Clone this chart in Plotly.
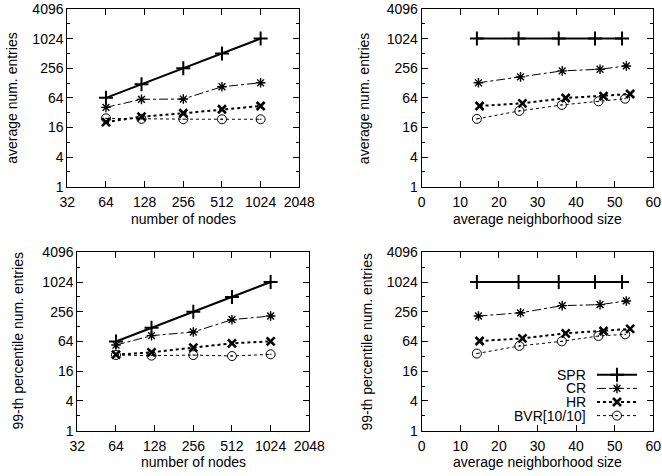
import plotly.graph_objects as go

# ---------------- data ----------------
series_names = ["SPR", "CR", "HR", "BVR[10/10]"]

# number of nodes (left column)
nodes = [64, 121, 256, 512, 1024]

# average entries vs number of nodes (top-left)
avg_nodes_spr = [64, 121, 256, 512, 1024]
avg_nodes_cr = [41, 59.7, 60.6, 107.6, 129.6]
avg_nodes_hr = [20.5, 26.6, 31.1, 37.5, 43.7]
avg_nodes_bvr = [24.5, 23.9, 23.6, 23.5, 23.5]

# 99th percentile vs number of nodes (bottom-left)
p99_nodes_spr = [64, 121, 256, 512, 1024]
p99_nodes_cr = [54.3, 84, 99.7, 177, 210]
p99_nodes_hr = [34.6, 38.6, 48.1, 58.8, 64.5]
p99_nodes_bvr = [34.1, 33.1, 34.0, 32.5, 35.2]

# average neighborhood size (right column), per series
nbh_spr = [14.3, 25.1, 35.5, 44.9, 51.9]
nbh_cr = [14.7, 25.6, 36.4, 46.2, 53.0]
nbh_hr = [15.0, 26.1, 37.3, 47.1, 54.0]
nbh_bvr = [14.3, 25.3, 36.3, 45.8, 52.7]

# average entries vs neighborhood size (top-right)
avg_nbh_spr = [1024, 1024, 1024, 1024, 1024]
avg_nbh_cr = [129.6, 171, 226, 244, 285]
avg_nbh_hr = [43.7, 49.6, 63.5, 69.6, 76.5]
avg_nbh_bvr = [23.9, 34.7, 45.9, 54.4, 61.5]

# 99th percentile vs neighborhood size (bottom-right)
p99_nbh_spr = [1024, 1024, 1024, 1024, 1024]
p99_nbh_cr = [210, 244, 341, 357, 424]
p99_nbh_hr = [65.4, 74, 93.7, 104.6, 115]
p99_nbh_bvr = [36.5, 52, 64.5, 82.7, 89.4]

y_ticks = [1, 4, 16, 64, 256, 1024, 4096]
y_minor = [2, 8, 32, 128, 512, 2048]
x_nodes_ticks = [32, 64, 128, 256, 512, 1024, 2048]

# ---------------- styles ----------------
FONT = "Liberation Sans, Arial, Helvetica, sans-serif"
W, H = 662, 476

styles = {
    "SPR": dict(line=dict(color="black", width=2, dash="solid"),
                marker=dict(symbol="cross-thin-open", size=10, color="black",
                            line=dict(color="black", width=2))),
    "CR": dict(line=dict(color="black", width=1, dash="dashdot"),
               marker=dict(symbol="asterisk-open", size=8, color="black",
                           line=dict(color="black", width=1.4))),
    "HR": dict(line=dict(color="black", width=2, dash="dot"),
               marker=dict(symbol="x-thin-open", size=8, color="black",
                           line=dict(color="black", width=2.6))),
    "BVR[10/10]": dict(line=dict(color="black", width=1, dash="dot"),
                       marker=dict(symbol="circle-open-dot", size=9, color="black",
                                   line=dict(color="black", width=1))),
}

fig = go.Figure()

panels = [
    ("x", "y", [nodes] * 4, [avg_nodes_spr, avg_nodes_cr, avg_nodes_hr, avg_nodes_bvr]),
    ("x2", "y2", [nbh_spr, nbh_cr, nbh_hr, nbh_bvr], [avg_nbh_spr, avg_nbh_cr, avg_nbh_hr, avg_nbh_bvr]),
    ("x3", "y3", [nodes] * 4, [p99_nodes_spr, p99_nodes_cr, p99_nodes_hr, p99_nodes_bvr]),
    ("x4", "y4", [nbh_spr, nbh_cr, nbh_hr, nbh_bvr], [p99_nbh_spr, p99_nbh_cr, p99_nbh_hr, p99_nbh_bvr]),
]

for xa, ya, xs, ys in panels:
    for name, xv, yv in zip(series_names, xs, ys):
        st = styles[name]
        fig.add_trace(go.Scatter(x=xv, y=yv, mode="lines+markers", name=name,
                                 xaxis=xa, yaxis=ya, line=st["line"],
                                 marker=st["marker"], showlegend=False,
                                 cliponaxis=False))

# ---------------- manual gnuplot-style key (bottom-right) ----------------
key_rows_y = [374.8, 388.4, 402.0, 415.6]
key_text_right = 587.5
key_sample = (597, 637)
for name, ky in zip(series_names, key_rows_y):
    st = styles[name]
    fig.add_trace(go.Scatter(x=[key_sample[0], key_sample[1]], y=[ky, ky], mode="lines",
                             xaxis="x5", yaxis="y5", line=st["line"],
                             showlegend=False, hoverinfo="skip"))
    fig.add_trace(go.Scatter(x=[(key_sample[0] + key_sample[1]) / 2], y=[ky], mode="markers",
                             xaxis="x5", yaxis="y5", marker=st["marker"],
                             showlegend=False, hoverinfo="skip"))

annotations = []
for name, ky in zip(series_names, key_rows_y):
    annotations.append(dict(x=key_text_right / W, y=1 - ky / H, xref="paper", yref="paper",
                            text=name, showarrow=False, xanchor="right", yanchor="middle",
                            font=dict(family=FONT, size=14, color="black")))

def px_x(p):
    return p / W

def px_y(p):
    return 1 - p / H

boxes = {
    "TL": (67.3, 299.3, 9.0, 186.7),
    "TR": (421.7, 653.3, 9.0, 186.7),
    "BL": (77.3, 309.3, 252.3, 430.7),
    "BR": (421.7, 653.3, 252.3, 430.7),
}

common_axis = dict(showline=True, linecolor="black", linewidth=1, mirror="ticks",
                   ticks="inside", ticklen=6, tickcolor="black", tickwidth=1,
                   showgrid=False, zeroline=False, automargin=False,
                   tickfont=dict(family=FONT, size=14, color="black"))

def yaxis_cfg(box):
    l, r, t, b = box
    return dict(common_axis, type="log", range=[0, 3.61236],
                tickmode="array", tickvals=y_ticks, ticktext=[str(v) for v in y_ticks],
                minor=dict(tickmode="array", tickvals=y_minor, ticks="inside", ticklen=3,
                           tickcolor="black", tickwidth=1, showgrid=False),
                domain=[px_y(b), px_y(t)], ticklabelstandoff=0)

def xnodes_cfg(box):
    l, r, t, b = box
    return dict(common_axis, type="log", range=[1.50515, 3.31133],
                tickmode="array", tickvals=x_nodes_ticks,
                ticktext=[str(v) for v in x_nodes_ticks],
                domain=[px_x(l), px_x(r)], ticklabelstandoff=2)

def xnbh_cfg(box):
    l, r, t, b = box
    return dict(common_axis, type="linear", range=[0, 60], dtick=10, tick0=0,
                domain=[px_x(l), px_x(r)], ticklabelstandoff=2)

layout = dict(
    template="none",
    width=W, height=H, margin=dict(l=0, r=0, t=0, b=0, pad=0),
    paper_bgcolor="white", plot_bgcolor="rgba(0,0,0,0)",
    font=dict(family=FONT, size=14, color="black"),
    showlegend=False,
    hovermode=False,
    xaxis=dict(xnodes_cfg(boxes["TL"]), anchor="y"),
    yaxis=dict(yaxis_cfg(boxes["TL"]), anchor="x"),
    xaxis2=dict(xnbh_cfg(boxes["TR"]), anchor="y2"),
    yaxis2=dict(yaxis_cfg(boxes["TR"]), anchor="x2"),
    xaxis3=dict(xnodes_cfg(boxes["BL"]), anchor="y3"),
    yaxis3=dict(yaxis_cfg(boxes["BL"]), anchor="x3"),
    xaxis4=dict(xnbh_cfg(boxes["BR"]), anchor="y4"),
    yaxis4=dict(yaxis_cfg(boxes["BR"]), anchor="x4"),
    xaxis5=dict(domain=[0, 1], range=[0, W], visible=False, fixedrange=True,
                anchor="y5", automargin=False),
    yaxis5=dict(domain=[0, 1], range=[H, 0], visible=False, fixedrange=True,
                anchor="x5", automargin=False),
)

titles = [
    ("number of nodes", "TL", 219.0, 12.0, "average num. entries"),
    ("average neighborhood size", "TR", 219.0, 364.3, "average num. entries"),
    ("number of nodes", "BL", 461.5, 17.0, "99-th percentile num. entries"),
    ("average neighborhood size", "BR", 461.5, 366.0, "99-th percentile num. entries"),
]
for xt, key, xty, ytx, yt in titles:
    l, r, t, b = boxes[key]
    annotations.append(dict(x=px_x((l + r) / 2), y=px_y(xty), xref="paper", yref="paper",
                            text=xt, showarrow=False, xanchor="center", yanchor="middle",
                            font=dict(family=FONT, size=14, color="black")))
    annotations.append(dict(x=px_x(ytx), y=px_y((t + b) / 2), xref="paper", yref="paper",
                            text=yt, showarrow=False, textangle=-90,
                            xanchor="center", yanchor="middle",
                            font=dict(family=FONT, size=14, color="black")))

layout["annotations"] = annotations
fig.update_layout(**layout)

fig.write_html("out.html",
               config={"displayModeBar": False, "staticPlot": False},
               post_script="document.body.style.margin='0px';document.body.style.padding='0px';")
